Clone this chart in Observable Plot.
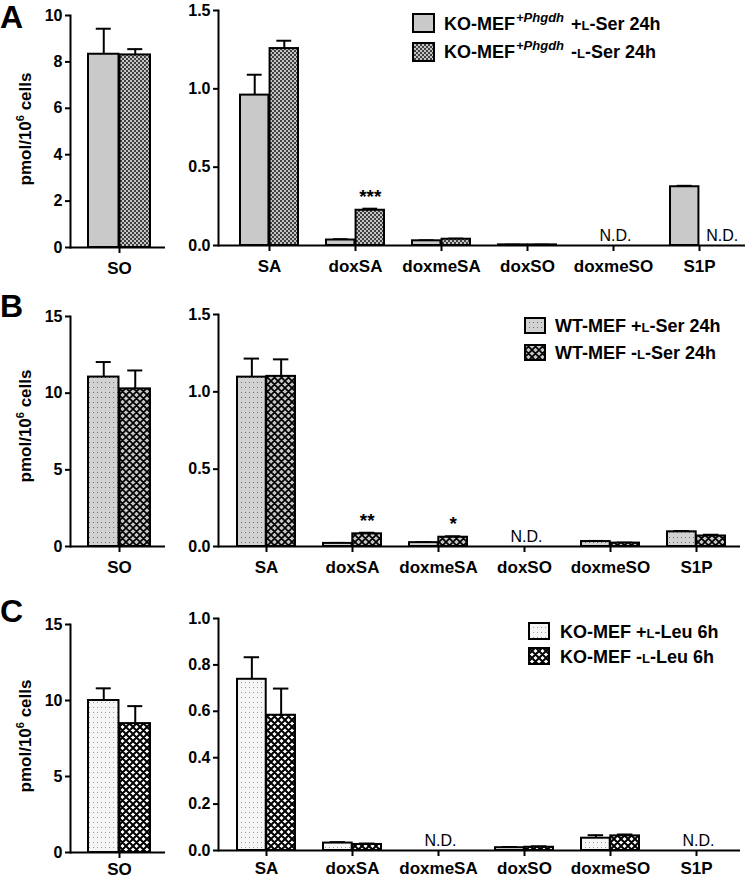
<!DOCTYPE html>
<html><head><meta charset="utf-8">
<script src="https://cdn.jsdelivr.net/npm/d3@7"></script>
<script src="https://cdn.jsdelivr.net/npm/@observablehq/plot@0.6"></script>
<style>
body{margin:0;background:#fff;overflow:hidden}
#fig{position:relative;width:745px;height:877px;font-family:"Liberation Sans",Arial,sans-serif}
#fig > svg{position:absolute}
</style></head><body><div id="fig"></div>
<script>
// ---------- data ----------
const categories = ["SA","doxSA","doxmeSA","doxSO","doxmeSO","S1P"];
const categoriesSO = ["SO"];

// Row A: KO-MEF+Phgdh  (+L-Ser / -L-Ser 24h)
const aSOPlus = [8.33], aSOPlusErr = [1.10];
const aSOMinus = [8.30], aSOMinusErr = [0.25];
const aPlus = [0.96, 0.035, 0.03, 0.004, null, 0.375];
const aPlusErr = [0.13, 0.005, 0.003, 0.001, null, 0.006];
const aMinus = [1.257, 0.225, 0.04, 0.004, null, null];
const aMinusErr = [0.05, 0.01, 0.004, 0.001, null, null];
const aStars = ["", "***", "", "", "", ""];

// Row B: WT-MEF (+L-Ser / -L-Ser 24h)
const bSOPlus = [11.05], bSOPlusErr = [0.98];
const bSOMinus = [10.28], bSOMinusErr = [1.2];
const bPlus = [1.095, 0.02, 0.025, null, 0.032, 0.095];
const bPlusErr = [0.12, 0.003, 0.003, null, 0.004, 0.005];
const bMinus = [1.10, 0.082, 0.06, null, 0.022, 0.068];
const bMinusErr = [0.11, 0.007, 0.006, null, 0.003, 0.008];
const bStars = ["", "**", "*", "", "", ""];

// Row C: KO-MEF (+L-Leu / -L-Leu 6h)
const cSOPlus = [10.0], cSOPlusErr = [0.8];
const cSOMinus = [8.48], cSOMinusErr = [1.15];
const cPlus = [0.738, 0.032, null, 0.012, 0.053, null];
const cPlusErr = [0.095, 0.004, null, 0.003, 0.013, null];
const cMinus = [0.583, 0.026, null, 0.014, 0.063, null];
const cMinusErr = [0.115, 0.004, null, 0.004, 0.006, null];
const cStars = ["", "", "", "", "", ""];

const ticksA_SO = [0, 2, 4, 6, 8, 10], ticksA = [0, 0.5, 1.0, 1.5];
const ticksB_SO = [0, 5, 10, 15], ticksB = [0, 0.5, 1.0, 1.5];
const ticksC_SO = [0, 5, 10, 15], ticksC = [0, 0.2, 0.4, 0.6, 0.8, 1.0];

const panelLetters = ["A", "B", "C"];
const yLabel = ["pmol/10", "6", " cells"];
const ndLabel = "N.D.";
// legend entries: [base, superscript, sign, small-cap L, rest]
const legendA = [["KO-MEF", "+Phgdh", " +", "L", "-Ser 24h"], ["KO-MEF", "+Phgdh", " -", "L", "-Ser 24h"]];
const legendB = [["WT-MEF", "", " +", "L", "-Ser 24h"], ["WT-MEF", "", " -", "L", "-Ser 24h"]];
const legendC = [["KO-MEF", "", " +", "L", "-Leu 6h"], ["KO-MEF", "", " -", "L", "-Leu 6h"]];

// ---------- patterns ----------
const fig = d3.select("#fig");
const defsSvg = fig.append("svg").attr("width", 0).attr("height", 0).style("left", 0).style("top", 0);
const defs = defsSvg.append("defs");
function pat(id, w, h, draw) {
  const p = defs.append("pattern").attr("id", id).attr("patternUnits", "userSpaceOnUse").attr("width", w).attr("height", h);
  draw(p);
}
pat("pA2", 4, 4, p => {
  p.append("rect").attr("width", 4).attr("height", 4).attr("fill", "#c4c4c4");
  p.append("rect").attr("width", 2).attr("height", 2).attr("fill", "#404040");
  p.append("rect").attr("x", 2).attr("y", 2).attr("width", 2).attr("height", 2).attr("fill", "#404040");
});
pat("pB1", 4, 5, p => {
  p.append("rect").attr("width", 4).attr("height", 5).attr("fill", "#d2d2d2");
  p.append("rect").attr("x", 1).attr("y", 2).attr("width", 1).attr("height", 1).attr("fill", "#707070");
});
pat("pB2", 7, 7, p => {
  p.append("rect").attr("width", 7).attr("height", 7).attr("fill", "#c6c6c6");
  p.append("path").attr("d", "M0,0L7,7M7,0L0,7M-1,6L1,8M6,-1L8,1M-1,1L1,-1M6,8L8,6").attr("stroke", "#000").attr("stroke-width", 1.7);
});
pat("pC1", 4, 5, p => {
  p.append("rect").attr("width", 4).attr("height", 5).attr("fill", "#f6f6f6");
  p.append("rect").attr("x", 1).attr("y", 2).attr("width", 1).attr("height", 1).attr("fill", "#9a9a9a");
});
pat("pC2", 7, 7, p => {
  p.append("rect").attr("width", 7).attr("height", 7).attr("fill", "#ffffff");
  p.append("path").attr("d", "M0,0L7,7M7,0L0,7M-1,6L1,8M6,-1L8,1M-1,1L1,-1M6,8L8,6").attr("stroke", "#000").attr("stroke-width", 2);
});
const fillsA = ["#c9c9c9", "url(#pA2)"];
const fillsB = ["url(#pB1)", "url(#pB2)"];
const fillsC = ["url(#pC1)", "url(#pC2)"];

// ---------- panels ----------
function panel(o) {
  const rows = o.cats.flatMap((c, i) => [
    {cat: c, s: 0, v: o.plus[i], e: o.plusErr[i], star: ""},
    {cat: c, s: 1, v: o.minus[i], e: o.minusErr[i], star: (o.stars || [])[i] || ""}
  ]);
  const have = rows.filter(d => d.v != null);
  const nd = {"-1": [], "0": [], "1": []};
  o.cats.forEach((c, i) => {
    const p = o.plus[i] == null, m = o.minus[i] == null;
    if (p && m) nd["0"].push({cat: c});
    else if (p) nd["-1"].push({cat: c});
    else if (m) nd["1"].push({cat: c});
  });
  const bw = d3.scaleBand(o.cats, [o.ml, o.width - o.mr]).paddingInner(o.pi).paddingOuter(o.po).align(o.align).bandwidth();
  const q = bw / 4;
  const capIn = (bw - 16) / 2;
  const sub = s => have.filter(d => d.s === s);
  const marks = [];
  [0, 1].forEach(s => {
    marks.push(Plot.ruleX(sub(s), {x: "cat", y1: "v", y2: d => d.v + d.e, dx: s ? q : -q, stroke: "black", strokeWidth: 2}));
    marks.push(Plot.tickY(sub(s), {x: "cat", y: d => d.v + d.e, dx: s ? q : -q, insetLeft: capIn, insetRight: capIn, stroke: "black", strokeWidth: 2}));
  });
  [0, 1].forEach(s => {
    marks.push(Plot.barY(sub(s), {x: "cat", y: "v", fill: o.fills[s], stroke: "black", strokeWidth: 2,
      insetLeft: s ? bw / 2 : 0, insetRight: s ? 0 : bw / 2}));
  });
  marks.push(Plot.text(have.filter(d => d.star), {x: "cat", y: d => d.v + d.e, text: "star", dx: q, dy: -6,
    lineAnchor: "bottom", fontSize: 19, fontWeight: "bold"}));
  ["-1", "0", "1"].forEach(k => {
    if (nd[k].length) marks.push(Plot.text(nd[k], {x: "cat", text: () => ndLabel, frameAnchor: "bottom",
      dx: (+k) * q + (k === "1" ? 8 : 2), dy: -5, lineAnchor: "bottom", fontSize: 16, fontWeight: "normal"}));
  });
  marks.push(Plot.axisY({ticks: o.ticks, tickFormat: o.fmt, tickSize: 5, tickPadding: 3, strokeWidth: 2, label: null, fontSize: 16}));
  marks.push(Plot.axisX({tickSize: 6, tickPadding: o.xPad ?? 8, strokeWidth: 2, label: null, fontSize: 17}));
  marks.push(Plot.frame({anchor: "left", strokeWidth: 2}));
  marks.push(Plot.ruleY([0], {strokeWidth: 2}));
  const svg = Plot.plot({
    width: o.width, height: o.height,
    marginTop: o.mt, marginBottom: o.mb, marginLeft: o.ml, marginRight: o.mr,
    x: {type: "band", domain: o.cats, paddingInner: o.pi, paddingOuter: o.po, align: o.align},
    y: {domain: o.yDomain},
    style: {fontFamily: '"Liberation Sans", Arial, sans-serif', fontWeight: "bold", color: "black", background: "transparent", overflow: "visible"},
    marks
  });
  svg.style.position = "absolute";
  svg.style.left = o.left + "px";
  svg.style.top = o.top + "px";
  document.getElementById("fig").appendChild(svg);
}

const leftGeom = {cats: categoriesSO, width: 180, ml: 70, mr: 15, pi: 0, po: 0.254, align: 0.56, left: 0, fmt: d3.format("d")};
const rightGeom = {cats: categories, ml: 38, mr: 0, pi: 0.32, po: 0.19, align: 0.58, left: 180, fmt: d3.format(".1f")};

// Row A
panel({...leftGeom, top: 0, height: 290, mt: 15, mb: 43, yDomain: [0, 10], ticks: ticksA_SO,
  plus: aSOPlus, plusErr: aSOPlusErr, minus: aSOMinus, minusErr: aSOMinusErr, fills: fillsA});
panel({...rightGeom, width: 565, top: 0, height: 290, mt: 10, mb: 45, yDomain: [0, 1.5], ticks: ticksA,
  plus: aPlus, plusErr: aPlusErr, minus: aMinus, minusErr: aMinusErr, stars: aStars, fills: fillsA});
// Row B
panel({...leftGeom, top: 290, height: 290, mt: 26, mb: 34, yDomain: [0, 15], ticks: ticksB_SO,
  plus: bSOPlus, plusErr: bSOPlusErr, minus: bSOMinus, minusErr: bSOMinusErr, fills: fillsB});
panel({...rightGeom, width: 560, top: 290, height: 290, mt: 24, mb: 34, yDomain: [0, 1.5], ticks: ticksB,
  plus: bPlus, plusErr: bPlusErr, minus: bMinus, minusErr: bMinusErr, stars: bStars, fills: fillsB});
// Row C
panel({...leftGeom, top: 580, height: 297, mt: 44, mb: 25, yDomain: [0, 15], ticks: ticksC_SO, xPad: 4,
  plus: cSOPlus, plusErr: cSOPlusErr, minus: cSOMinus, minusErr: cSOMinusErr, fills: fillsC});
panel({...rightGeom, width: 560, top: 580, height: 297, mt: 38, mb: 27, yDomain: [0, 1.0], ticks: ticksC, xPad: 5,
  plus: cPlus, plusErr: cPlusErr, minus: cMinus, minusErr: cMinusErr, stars: cStars, fills: fillsC});

// ---------- overlay texts: letters, y labels, legends ----------
const ov = fig.append("svg").attr("width", 745).attr("height", 877).style("left", 0).style("top", 0)
  .style("pointer-events", "none").attr("font-family", '"Liberation Sans", Arial, sans-serif').attr("font-weight", "bold");
const letterBase = [28, 317, 622];
const yLabelMid = [129, 426, 736];
panelLetters.forEach((L, i) => {
  ov.append("text").attr("x", 0).attr("y", letterBase[i]).attr("font-size", 32).text(L);
  const t = ov.append("text").attr("transform", `translate(31,${yLabelMid[i]}) rotate(-90)`).attr("text-anchor", "middle").attr("font-size", 17);
  t.append("tspan").text(yLabel[0]);
  t.append("tspan").attr("font-size", 11).attr("dy", -7).text(yLabel[1]);
  t.append("tspan").attr("dy", 7).text(yLabel[2]);
});
function legend(entries, fills, g) {
  entries.forEach((e, i) => {
    ov.append("rect").attr("x", g.sx).attr("y", g.sy[i]).attr("width", g.sw).attr("height", g.sh)
      .attr("fill", fills[i]).attr("stroke", "#000").attr("stroke-width", 2);
    const t = ov.append("text").attr("x", g.tx).attr("y", g.ty[i]).attr("font-size", 18);
    t.append("tspan").text(e[0]);
    if (e[1]) {
      t.append("tspan").attr("font-size", 13).attr("font-style", "italic").attr("dy", -8).attr("dx", 1).text(e[1]);
      t.append("tspan").attr("dy", 8).attr("dx", 2).text(e[2]);
    } else {
      t.append("tspan").text(e[2]);
    }
    t.append("tspan").attr("font-size", 13).text(e[3]);
    t.append("tspan").text(e[4]);
  });
}
legend(legendA, fillsA, {sx: 413, sy: [14, 43], sw: 21, sh: 18, tx: 444, ty: [30, 58]});
legend(legendB, fillsB, {sx: 525, sy: [318, 345], sw: 20, sh: 15, tx: 555, ty: [332, 359]});
legend(legendC, fillsC, {sx: 529, sy: [623, 648], sw: 20, sh: 16, tx: 560, ty: [638, 663]});
</script></body></html>
